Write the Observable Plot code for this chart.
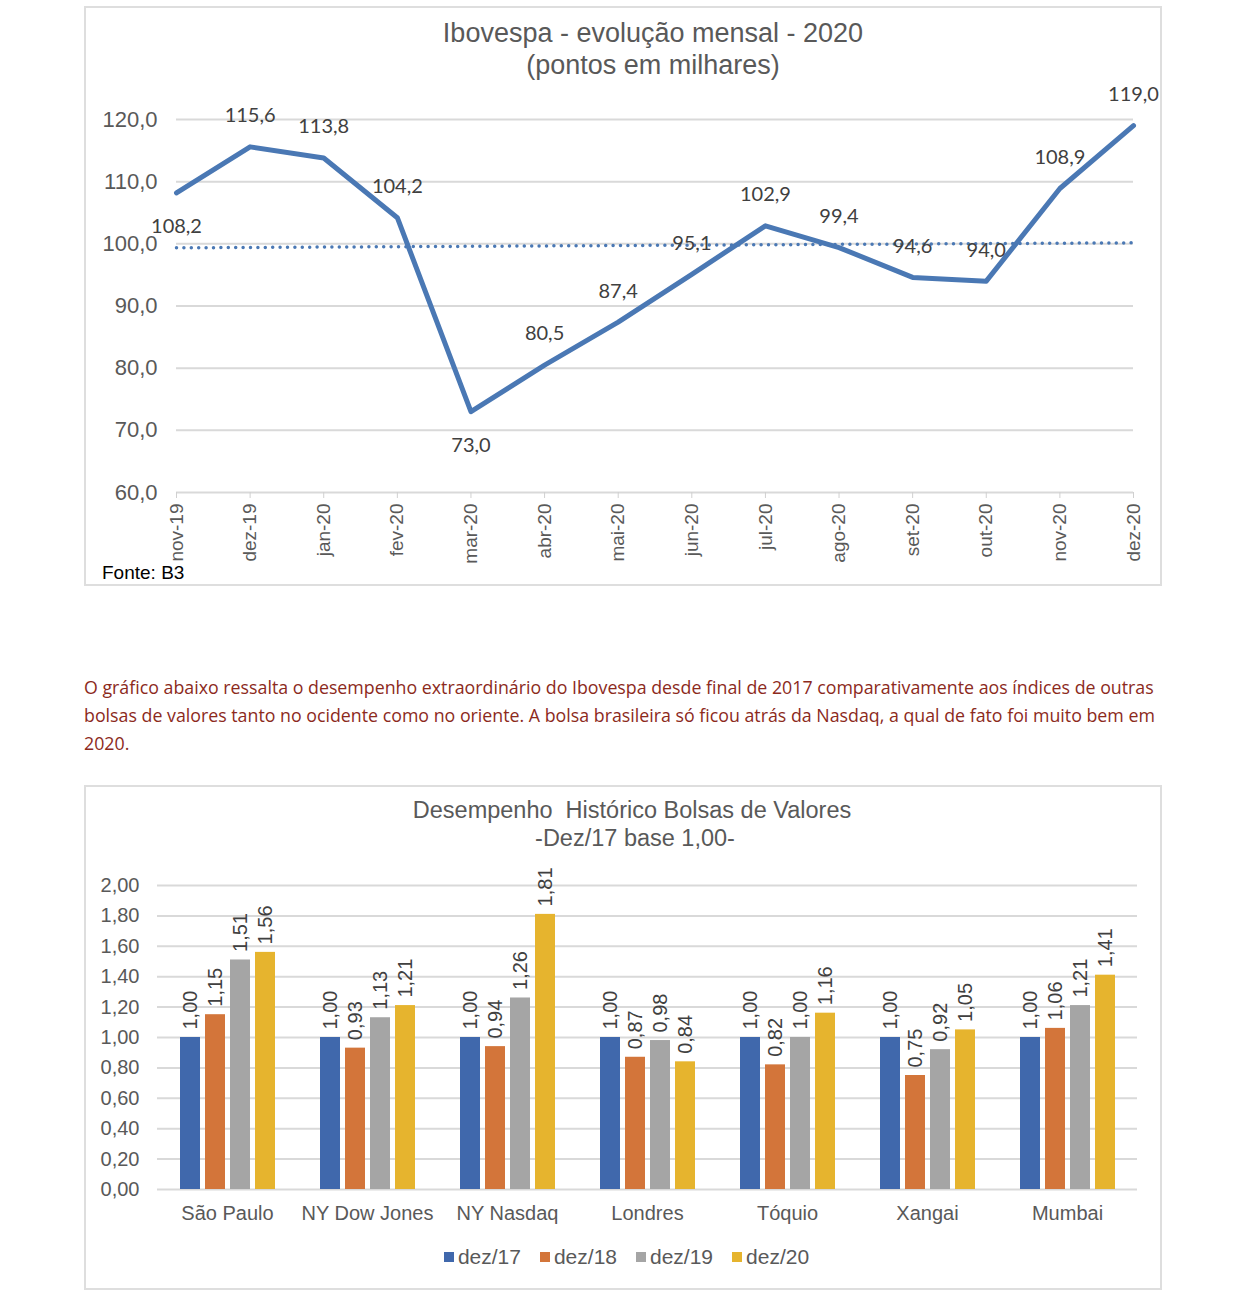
<!DOCTYPE html>
<html>
<head>
<meta charset="utf-8">
<script src="https://cdn.jsdelivr.net/npm/d3@7"></script>
<script src="https://cdn.jsdelivr.net/npm/@observablehq/plot@0.6"></script>
<style>
  html, body { margin: 0; padding: 0; background: #fff; overflow: hidden; }
  body { position: relative; width: 1239px; height: 1316px; font-family: "Liberation Sans", Arial, sans-serif; }
  .abs { position: absolute; }
  .box { position: absolute; left: 84px; width: 1074px; border: 2px solid #dedede; pointer-events: none; }
  .title { position: absolute; color: #595959; white-space: nowrap; transform: translateX(-50%); line-height: 1; }
  .para { position: absolute; left: 84px; top: 673px; font-family: "Open Sans", sans-serif; font-size: 17.8px; line-height: 28px; color: #8c2a1c; white-space: nowrap; }
  .lg-swatch > svg { margin-right: 4px !important; }
  .lg-swatch { margin-right: 19px !important; }
</style>
</head>
<body>
<div id="chart1" class="abs" style="left:0;top:0"></div>
<div class="box" style="top:6px;height:576px"></div>
<div class="title" style="left:653px;top:20px;font-size:27px">Ibovespa - evolução mensal - 2020</div>
<div class="title" style="left:653px;top:52px;font-size:27px">(pontos em milhares)</div>
<div class="abs" style="left:102px;top:563px;font-size:19px;color:#000;line-height:1">Fonte: B3</div>

<div class="para">O gráfico abaixo ressalta o desempenho extraordinário do Ibovespa desde final de 2017 comparativamente aos índices de outras<br>bolsas de valores tanto no ocidente como no oriente. A bolsa brasileira só ficou atrás da Nasdaq, a qual de fato foi muito bem em<br>2020.</div>

<div id="chart2" class="abs" style="left:0;top:760px"></div>
<div class="box" style="top:785px;height:501px"></div>
<div class="title" style="left:632px;top:799px;font-size:23.5px">Desempenho&nbsp; Histórico Bolsas de Valores</div>
<div class="title" style="left:635px;top:827px;font-size:23.5px">-Dez/17 base 1,00-</div>
<div id="legend2" class="abs" style="left:0;width:1272px;top:1240px;display:flex;justify-content:center"></div>

<script>
// ---------- Chart 1 data ----------
const months = ["nov-19","dez-19","jan-20","fev-20","mar-20","abr-20","mai-20","jun-20","jul-20","ago-20","set-20","out-20","nov-20","dez-20"];
const ibovespa = [108.2,115.6,113.8,104.2,73.0,80.5,87.4,95.1,102.9,99.4,94.6,94.0,108.9,119.0];
const labelsBelow = ["nov-19","mar-20"];
const yTicks1 = [60,70,80,90,100,110,120];

// ---------- Chart 2 data ----------
const markets = ["São Paulo","NY Dow Jones","NY Nasdaq","Londres","Tóquio","Xangai","Mumbai"];
const seriesNames = ["dez/17","dez/18","dez/19","dez/20"];
const dez17 = [1.00,1.00,1.00,1.00,1.00,1.00,1.00];
const dez18 = [1.15,0.93,0.94,0.87,0.82,0.75,1.06];
const dez19 = [1.51,1.13,1.26,0.98,1.00,0.92,1.21];
const dez20 = [1.56,1.21,1.81,0.84,1.16,1.05,1.41];
const yTicks2 = [0,0.2,0.4,0.6,0.8,1.0,1.2,1.4,1.6,1.8,2.0];
const seriesColors = ["#4068AC","#D3753A","#A5A5A5","#E6B42E"];

// ---------- Chart 1 ----------
const data1 = months.map((m, i) => ({i, month: m, value: ibovespa[i]}));
const fmt1 = v => v.toFixed(1).replace(".", ",");
const blue = "#4A78B4";
const font = "Liberation Sans, Arial, sans-serif";

const chart1 = Plot.plot({
  width: 1239, height: 590,
  marginLeft: 176, marginRight: 106, marginTop: 119, marginBottom: 98,
  style: {background: "transparent", fontFamily: font, color: "#595959", overflow: "visible"},
  x: {type: "linear", domain: [0, months.length - 1]},
  y: {domain: [60, 120]},
  marks: [
    Plot.gridY(yTicks1, {stroke: "#d9d9d9", strokeOpacity: 1, strokeWidth: 2}),
    Plot.axisY(yTicks1, {tickFormat: fmt1, tickSize: 0, tickPadding: 19, fontSize: 22, label: null, fill: "#595959"}),
    Plot.axisX(months.map((_, i) => i), {tickFormat: i => months[i], tickRotate: -90, tickSize: 6, tickPadding: 5, fontSize: 19, label: null, stroke: "#d0d0d0", fill: "#595959"}),
    Plot.linearRegressionY(data1, {x: "i", y: "value", ci: 0, stroke: blue, strokeWidth: 3.5, strokeDasharray: "0,7.4", strokeLinecap: "round"}),
    Plot.line(data1, {x: "i", y: "value", stroke: blue, strokeWidth: 5, strokeLinejoin: "round"}),
    Plot.text(data1.filter(d => !labelsBelow.includes(d.month)), {x: "i", y: "value", text: d => fmt1(d.value), dy: -31, fontSize: 20, fill: "#404040", fontFamily: "Lato, sans-serif"}),
    Plot.text(data1.filter(d => labelsBelow.includes(d.month)), {x: "i", y: "value", text: d => fmt1(d.value), dy: 34, fontSize: 20, fill: "#404040", fontFamily: "Lato, sans-serif"})
  ]
});
document.getElementById("chart1").appendChild(chart1);

// ---------- Chart 2 ----------
const seriesValues = [dez17, dez18, dez19, dez20];
const data2 = [];
markets.forEach((m, mi) => seriesNames.forEach((s, si) => data2.push({market: m, series: s, value: seriesValues[si][mi]})));
const fmt2 = v => v.toFixed(2).replace(".", ",");

const chart2 = Plot.plot({
  width: 1239, height: 480,
  marginLeft: 157, marginRight: 102, marginTop: 125, marginBottom: 51,
  style: {background: "transparent", fontFamily: font, color: "#595959", overflow: "visible"},
  fx: {domain: markets, padding: 0},
  x: {domain: seriesNames, paddingInner: 0.2, paddingOuter: 0.85, axis: null},
  y: {domain: [0, 2]},
  color: {domain: seriesNames, range: seriesColors},
  marks: [
    Plot.gridY(yTicks2, {stroke: "#d9d9d9", strokeOpacity: 1, strokeWidth: 2}),
    Plot.axisY(yTicks2, {tickFormat: fmt2, tickSize: 0, tickPadding: 18, fontSize: 20, label: null, fill: "#595959"}),
    Plot.axisFx({anchor: "bottom", tickSize: 0, tickPadding: 16, fontSize: 20, label: null, fill: "#595959"}),
    Plot.barY(data2, {fx: "market", x: "series", y: "value", fill: "series"}),
    Plot.text(data2, {fx: "market", x: "series", y: "value", text: d => fmt2(d.value), rotate: -90, textAnchor: "start", dy: -8, fontSize: 20, fill: "#404040"})
  ]
});
document.getElementById("chart2").appendChild(chart2);

const legend = Plot.legend({
  color: {type: "ordinal", domain: seriesNames, range: seriesColors},
  legend: "swatches", swatchSize: 10, className: "lg",
  style: {fontSize: "21px", fontFamily: font, color: "#595959"}
});
document.getElementById("legend2").appendChild(legend);
</script>
</body>
</html>
